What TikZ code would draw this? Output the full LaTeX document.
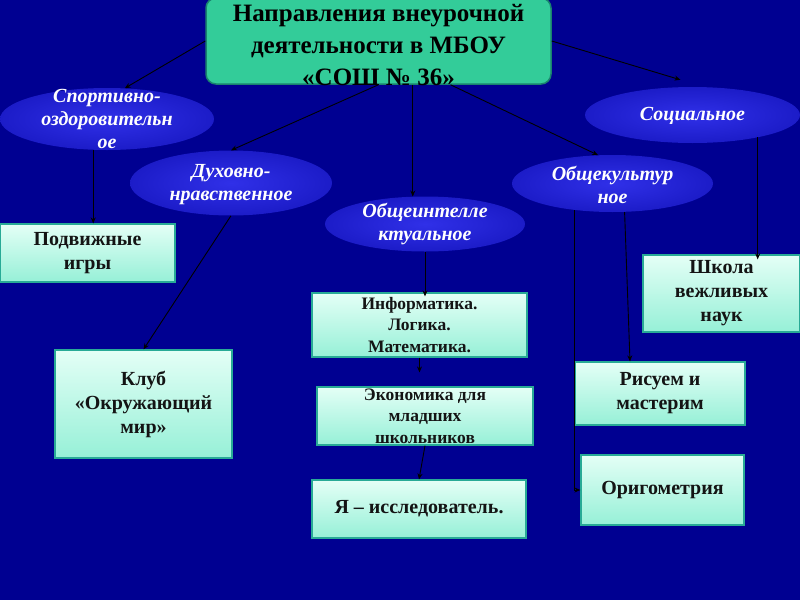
\documentclass[tikz,border=0pt]{standalone}
\usepackage{fontspec}
\setmainfont{Liberation Serif}
\usepackage{xcolor}
\usetikzlibrary{arrows.meta,shapes.geometric}
\definecolor{bgnavy}{RGB}{0,0,145}
\definecolor{headfill}{RGB}{51,204,153}
\definecolor{headline}{RGB}{25,130,110}
\definecolor{ellin}{RGB}{48,48,232}
\definecolor{ellout}{RGB}{28,28,200}
\definecolor{acttop}{RGB}{228,255,246}
\definecolor{actbot}{RGB}{150,240,215}
\definecolor{actline}{RGB}{40,170,150}
\definecolor{acttext}{RGB}{20,20,20}

\begin{document}
\begin{tikzpicture}[
    x=1pt, y=-1pt,
    head/.style={draw=headline, line width=1.5pt, rounded corners=10pt, fill=headfill, minimum width=345pt, minimum height=86pt},
    headtext/.style={align=center, inner sep=0pt, font=\fontsize{25}{32}\selectfont\bfseries, text=black},
    dir/.style={ellipse, inner sep=0pt, inner color=ellin, outer color=ellout},
    dirtext/.style={align=center, inner sep=0pt, text=white, font=\fontsize{20}{23}\selectfont\bfseries\itshape},
    act/.style={draw=actline, line width=1.2pt, top color=acttop, bottom color=actbot, align=center, inner sep=0pt, text=acttext, font=\fontsize{20}{24}\selectfont\bfseries},
    small/.style={font=\fontsize{17.5}{21.5}\selectfont\bfseries},
    >={Stealth[length=6pt,width=5pt]},
    conn/.style={->, line width=0.9pt, black}
]

\useasboundingbox (0,0) rectangle (800,600);
\fill[bgnavy] (0,0) rectangle (800,600);

\node[head] (head) at (378.5,41) {};

\node[dir, minimum width=214pt, minimum height=62pt] (sport) at (107,119) {};
\node[dirtext] (sporttxt) at (107,119) {Спортивно-\\оздоровительн\\ое};
\node[dir, minimum width=202pt, minimum height=65pt] (duh) at (231,183) {};
\node[dirtext] (duhtxt) at (231,185) {Духовно-\\нравственное};
\node[dir, minimum width=200pt, minimum height=55pt] (obshint) at (425,224) {};
\node[dirtext] (obshinttxt) at (425,224) {Общеинтелле\\ктуальное};
\node[dir, minimum width=201pt, minimum height=57pt] (kult) at (612.5,183.5) {};
\node[dirtext] (kulttxt) at (612.5,185) {Общекультур\\ное};
\node[dir, minimum width=215pt, minimum height=56pt] (soc) at (692.5,115) {};
\node[dirtext] (soctxt) at (692.5,116) {Социальное};

\node[act, minimum width=175pt, minimum height=58pt] (podv) at (87.5,253) {Подвижные\\игры};
\node[act, minimum width=177pt, minimum height=108pt] (klub) at (143.5,404) {Клуб\\«Окружающий\\мир»};
\node[act, small, minimum width=215pt, minimum height=64pt] (info) at (419.5,325) {Информатика.\\Логика.\\Математика.};
\node[act, small, minimum width=216pt, minimum height=58pt] (econ) at (425,416) {Экономика для\\младших\\школьников};
\node[act, minimum width=214pt, minimum height=58pt] (ya) at (419,509) {Я – исследователь.};
\node[act, minimum width=157pt, minimum height=77pt] (shk) at (721.5,293.5) {Школа\\вежливых\\наук};
\node[act, minimum width=170pt, minimum height=63pt] (ris) at (660,393.5) {Рисуем и\\мастерим};
\node[act, minimum width=163pt, minimum height=70pt] (orig) at (662.5,490) {Оригометрия};

\draw[conn] (head.west) -- (sport.60);
\draw[conn] (head.south) -- (duh.north);
\draw[conn] (head.south -| obshint.114) -- (obshint.114);
\draw[conn] ([xshift=72pt]head.south) -- (kult.117);
\draw[conn] (head.east) -- ([xshift=-12pt,yshift=7pt]soc.north);

\draw[conn] (sport.246) -- (sport.246 |- podv.north);
\draw[conn] (duh.south) -- (klub.north);
\draw[conn] (obshint.south) -- ([yshift=-4pt]obshint.south |- info.north);
\draw[conn] (info.south) -- ([yshift=14pt]info.south |- econ.north);
\draw[conn] (econ.south) -- (ya.north);
\draw[conn] (soc.341) -- ([yshift=-5pt]soc.341 |- shk.north);
\draw[conn] (kult.293) -- ([xshift=-30pt]ris.north);
\draw[conn] (kult.215) |- (orig.west);

\node[headtext] (headtxt) at (378.5,45) {Направления внеурочной\\деятельности в МБОУ\\«СОШ № 36»};

\end{tikzpicture}
\end{document}
